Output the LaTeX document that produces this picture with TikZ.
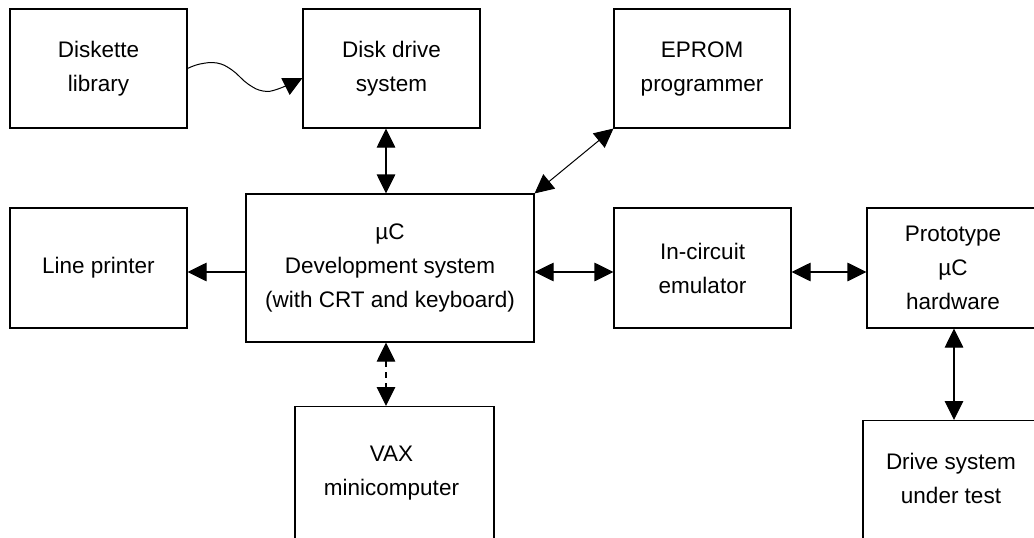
\documentclass[tikz,border=0pt]{standalone}
\usepackage{fontspec}
\setmainfont{Liberation Sans}
\usetikzlibrary{arrows.meta,calc}
\tikzset{
  txt/.style={align=center, inner sep=0pt, font=\fontsize{22.5}{34}\selectfont},
  blk/.style={draw, line width=1.1pt, rectangle, txt},
  link/.style={line width=1.1pt, -{Triangle[length=19pt,width=18.5pt]}},
  dlink/.style={line width=1.1pt, {Triangle[length=19pt,width=18.5pt]}-{Triangle[length=19pt,width=18.5pt]}},
}
\begin{document}
\begin{tikzpicture}[x=1pt,y=-1pt]
\clip (0,0) rectangle (1034,538);
\fill[white] (0,0) rectangle (1034,538);

% top row
\node[blk, minimum width=177pt, minimum height=119pt] (dl) at (98.5,68.5) {Diskette\\library};
\node[blk, minimum width=177pt, minimum height=119pt] (dd) at (391.5,68.5) {Disk drive\\system};
\node[blk, minimum width=176pt, minimum height=119pt] (ep) at (702,68.5) {EPROM\\programmer};

% middle row
\node[blk, minimum width=177pt, minimum height=120pt] (lp) at (98.5,268) {Line printer};
\node[blk, minimum width=288pt, minimum height=148pt] (dev) at (390,268) {µC\\Development system\\(with CRT and keyboard)};
\node[blk, minimum width=177pt, minimum height=120pt] (ice) at (702.5,268) {In-circuit\\emulator};
\node[blk, minimum width=172pt, minimum height=120pt] (pro) at (953,268) {Prototype\\µC\\hardware};

% bottom row (boxes run past the lower edge)
\node[blk, minimum width=199pt, minimum height=180pt, anchor=north,
      label={[txt, anchor=north, yshift=-40pt, xshift=-3pt]north:VAX\\minicomputer}] (vax) at (394.5,406) {};
\node[blk, minimum width=176pt, minimum height=180pt, anchor=north,
      label={[txt, anchor=north, yshift=-33pt]north:Drive system\\under test}] (drv) at (951,420) {};

% connectors
\coordinate (wv) at ($(dd.west)+(0,9.5)$);
\draw[link, line width=1pt] plot[smooth, tension=0.7] coordinates
  {(dl.east) (200,64) (217,63) (232,70) (248,84) (263,91) (278,89) (wv)};

\draw[dlink] ([xshift=-5.5pt]dd.south) -- ([xshift=-5.5pt]dd.south |- dev.north);
\draw[dlink, line width=1pt] (dev.north east) -- (ep.south west);
\draw[link] ($(dev.west)+(0,4)$) -- ($(lp.east)+(0,4)$);
\draw[dlink] ($(dev.east)+(0,4)$) -- ($(ice.west)+(0,4)$);
\draw[dlink] ($(ice.east)+(0,4)$) -- ($(pro.west)+(0,4)$);
\draw[dlink, dash pattern=on 6pt off 5pt] ([xshift=-4pt]dev.south) -- ([xshift=-4pt]dev.south |- vax.north);
\draw[dlink] ([xshift=1pt]pro.south) -- ([xshift=1pt]pro.south |- drv.north);
\end{tikzpicture}
\end{document}
